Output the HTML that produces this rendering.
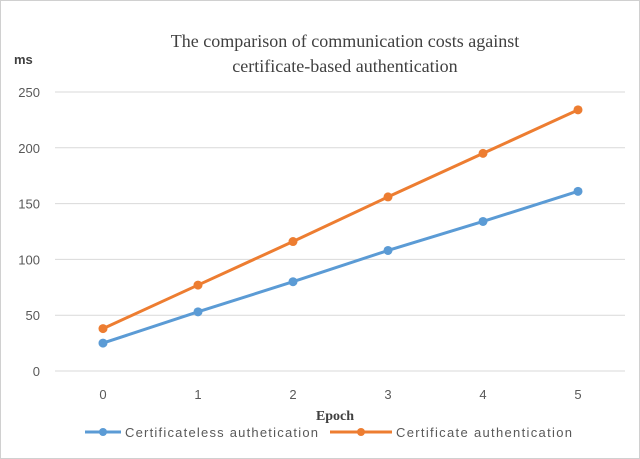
<!DOCTYPE html>
<html><head><style>
body{margin:0;background:#fff;}
svg{display:block;font-family:"Liberation Sans",sans-serif;}
</style></head><body>
<svg id="c" width="640" height="459">
<rect x="0.5" y="0.5" width="639" height="458" fill="#fff" stroke="#d0d0d0"/>
<text x="345" y="47" text-anchor="middle" font-family="Liberation Serif,serif" font-size="18" fill="#404040">The comparison of communication costs against</text>
<text x="345" y="72" text-anchor="middle" font-family="Liberation Serif,serif" font-size="18" fill="#404040">certificate-based authentication</text>
<text x="14" y="64" font-size="13" font-weight="bold" fill="#404040">ms</text>
<text x="335" y="420" text-anchor="middle" font-family="Liberation Serif,serif" font-size="14" font-weight="bold" fill="#404040">Epoch</text>
<g id="grid"></g><g id="marks"></g>
<g>
<line x1="85" y1="432" x2="121" y2="432" stroke="#5b9bd5" stroke-width="3"/>
<circle cx="103" cy="432" r="4" fill="#5b9bd5"/>
<text x="125" y="437" font-size="13" fill="#595959" textLength="193" lengthAdjust="spacing">Certificateless authetication</text>
<line x1="330" y1="432" x2="392" y2="432" stroke="#ed7d31" stroke-width="3"/>
<circle cx="361" cy="432" r="4" fill="#ed7d31"/>
<text x="396" y="437" font-size="13" fill="#595959" textLength="176" lengthAdjust="spacing">Certificate authentication</text>
</g>
</svg>
<script>
const categories=[0,1,2,3,4,5];
const certificatelessValues=[25,53,80,108,134,161];
const certificateValues=[38,77,116,156,195,234];
const yTicks=[0,50,100,150,200,250];
const NS="http://www.w3.org/2000/svg";
const xS=i=>103+i*95;
const yS=v=>371-v*(279/250);
const grid=document.getElementById('grid'),marks=document.getElementById('marks');
function mk(tag,attrs,parent){const e=document.createElementNS(NS,tag);for(const k in attrs)e.setAttribute(k,attrs[k]);parent.appendChild(e);return e;}
yTicks.forEach(t=>{
 const l=mk('line',{x1:55,x2:625,y1:yS(t),y2:yS(t),stroke:'#d9d9d9','stroke-width':1},grid);
 
 
 const tx=mk('text',{x:40,y:yS(t)+5,'text-anchor':'end','font-size':13,fill:'#595959'},grid);
 tx.textContent=t;
 
 
});
categories.forEach((c,i)=>{
 const tx=mk('text',{x:xS(i),y:399,'text-anchor':'middle','font-size':13,fill:'#595959'},grid);
 tx.textContent=c;
 
 
});
function series(vals,color,name){
 const p=mk('polyline',{points:vals.map((v,i)=>xS(i)+','+yS(v)).join(' '),fill:'none',stroke:color,'stroke-width':3},marks);
 
 
 vals.forEach((v,i)=>{
  const c=mk('circle',{cx:xS(i),cy:yS(v),r:4.5,fill:color},marks);
  
  
 });
}
series(certificatelessValues,'#5b9bd5','certificateless');
series(certificateValues,'#ed7d31','certificate');
</script>
</body></html>
